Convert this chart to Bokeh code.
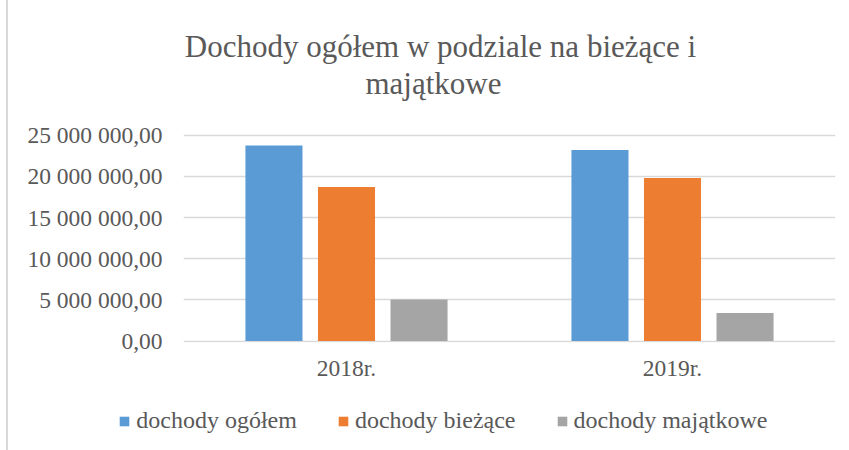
from bokeh.plotting import figure
from bokeh.layouts import column
from bokeh.models import ColumnDataSource, FactorRange, Range1d, FixedTicker, Legend, LegendItem, Label
from bokeh.transform import dodge
from bokeh.embed import file_html
from bokeh.resources import INLINE

# ---- data ----
title_lines = ["Dochody ogółem w podziale na bieżące i", "majątkowe"]
years = ["2018r.", "2019r."]
series_names = ["dochody ogółem", "dochody bieżące", "dochody majątkowe"]
dochody_ogolem = [23750000, 23200000]
dochody_biezace = [18700000, 19800000]
dochody_majatkowe = [5050000, 3400000]
y_ticks = [0, 5000000, 10000000, 15000000, 20000000, 25000000]
y_tick_labels = ["0,00", "5 000 000,00", "10 000 000,00", "15 000 000,00",
                 "20 000 000,00", "25 000 000,00"]

# ---- styles ----
colors = ["#5B9BD5", "#ED7D31", "#A5A5A5"]
text_color = "#595959"
font = "Liberation Serif"


def no_align(fig):
    try:
        fig.frame_align = False
    except Exception:
        pass


# thin black strip along the top edge (as in the reference screenshot)
band = figure(width=849, height=6, x_range=Range1d(0, 1), y_range=Range1d(0, 1),
              output_backend="svg", toolbar_location=None,
              x_axis_type=None, y_axis_type=None,
              min_border_left=0, min_border_right=0, min_border_top=0, min_border_bottom=0)
band.outline_line_color = None
band.xgrid.visible = False
band.ygrid.visible = False
band.background_fill_color = "black"
band.border_fill_color = "black"
no_align(band)

src = ColumnDataSource(dict(year=years, s0=dochody_ogolem, s1=dochody_biezace, s2=dochody_majatkowe))

# main chart; the frame reaches the top of the canvas so the title can sit inside it
p = figure(width=849, height=386,
           x_range=FactorRange(factors=years, range_padding=0),
           y_range=Range1d(-182000, 40633000),
           output_backend="svg", toolbar_location=None,
           min_border_left=183, min_border_right=14,
           min_border_top=0, min_border_bottom=50)
p.outline_line_color = None
p.background_fill_color = "white"
p.border_fill_color = None
no_align(p)

offsets = [-0.2225, 0.0, 0.2225]
for i, col in enumerate(["s0", "s1", "s2"]):
    p.vbar(x=dodge("year", offsets[i], range=p.x_range), top=col, width=0.175,
           source=src, fill_color=colors[i], line_color=None)

for ax in (p.yaxis[0], p.xaxis[0]):
    ax.axis_line_color = None
    ax.major_tick_line_color = None
    ax.minor_tick_line_color = None
    ax.major_tick_out = 0
    ax.major_tick_in = 0
    ax.minor_tick_out = 0
    ax.major_label_text_font = font
    ax.major_label_text_font_size = "23.5px"
    ax.major_label_text_color = text_color

p.yaxis.ticker = FixedTicker(ticks=y_ticks)
p.yaxis.major_label_overrides = {t: l for t, l in zip(y_ticks, y_tick_labels)}
p.yaxis.major_label_standoff = 21
p.xaxis.major_label_standoff = 12

p.xgrid.visible = False
p.ygrid.ticker = FixedTicker(ticks=y_ticks)
p.ygrid.grid_line_color = "#d9d9d9"
p.ygrid.grid_line_width = 1.6

t1 = Label(x=257, y=296.5, x_units="screen", y_units="screen", text=title_lines[0],
           text_align="center", text_baseline="alphabetic", text_font=font,
           text_font_size="31px", text_color=text_color)
t2 = Label(x=250, y=259.5, x_units="screen", y_units="screen", text=title_lines[1],
           text_align="center", text_baseline="alphabetic", text_font=font,
           text_font_size="31px", text_color=text_color)
p.add_layout(t1)
p.add_layout(t2)

# legend strip under the chart
lg = figure(width=849, height=58, x_range=Range1d(0, 1), y_range=Range1d(0, 1),
            output_backend="svg", toolbar_location=None,
            x_axis_type=None, y_axis_type=None,
            min_border_left=0, min_border_right=0, min_border_top=0, min_border_bottom=0)
lg.outline_line_color = None
lg.xgrid.visible = False
lg.ygrid.visible = False
lg.background_fill_color = None
lg.border_fill_color = None
no_align(lg)
# zero-size proxy glyphs that only carry the legend colours
lg_renderers = [lg.vbar(x=[0], top=[0], bottom=[0], width=0, fill_color=c, line_color=None)
                for c in colors]

legend = Legend(items=[LegendItem(label=n, renderers=[r]) for n, r in zip(series_names, lg_renderers)],
                orientation="horizontal", location=(118.3, 16),
                glyph_width=12, glyph_height=12, label_standoff=6, spacing=40,
                padding=0, margin=0, border_line_color=None, background_fill_alpha=0,
                label_text_font=font, label_text_font_size="24px",
                label_text_color=text_color)
lg.add_layout(legend)

layout = column(band, p, lg, spacing=0,
                styles={"background": "linear-gradient(to right, #ffffff 6px, #d9d9d9 6px, "
                                      "#d9d9d9 8px, #ffffff 8px)"})
open("out.html", "w").write(file_html(layout, INLINE))
